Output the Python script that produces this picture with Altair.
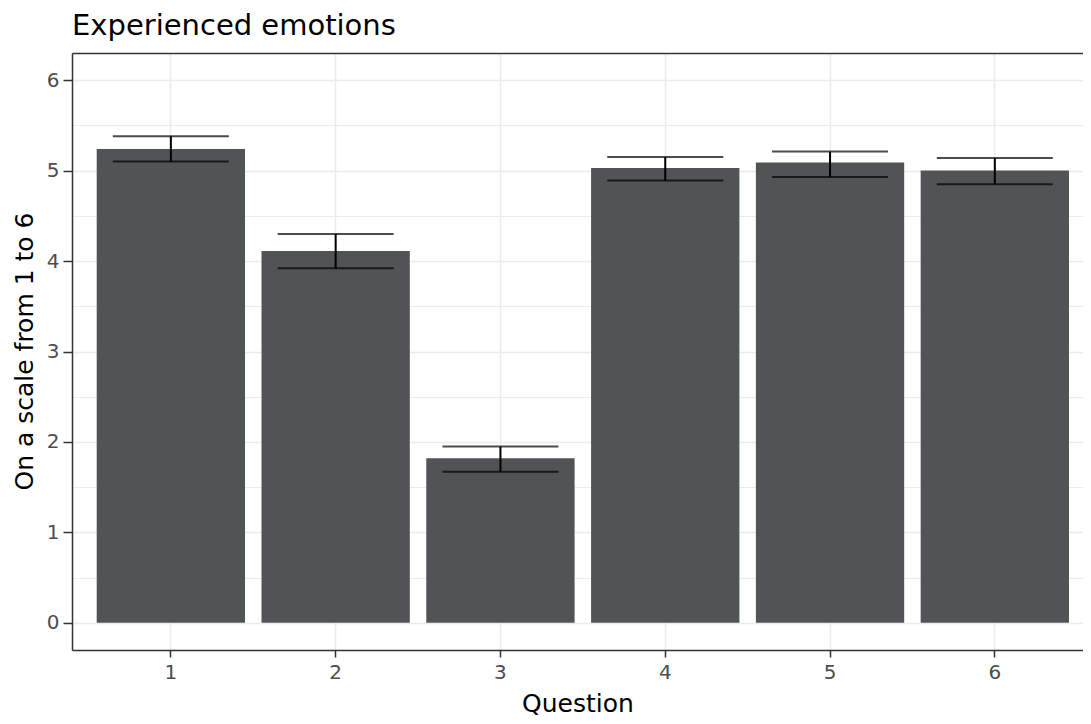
import altair as alt
import pandas as pd

questions = ["1", "2", "3", "4", "5", "6"]
means = [5.24, 4.11, 1.82, 5.03, 5.09, 5.00]
lower = [5.10, 3.92, 1.67, 4.89, 4.93, 4.85]
upper = [5.38, 4.30, 1.95, 5.15, 5.21, 5.14]
y_ticks = [0, 0.5, 1, 1.5, 2, 2.5, 3, 3.5, 4, 4.5, 5, 5.5, 6]

df = pd.DataFrame({"Question": questions, "mean": means, "lower": lower, "upper": upper})

FONT = "DejaVu Sans"
BORDER = "#333333"

x_scale = alt.Scale(paddingInner=0.1, paddingOuter=0.1175, align=0.638)
y_scale = alt.Scale(domain=[-0.3, 6.3], nice=False, zero=False)

x_axis_bottom = alt.Axis(
    labelAngle=0,
    labelFont=FONT,
    labelFontSize=20,
    labelColor="#4D4D4D",
    labelPadding=5,
    tickColor=BORDER,
    tickWidth=1.5,
    tickSize=7,
    domain=True,
    domainColor=BORDER,
    domainWidth=1.5,
    grid=True,
    gridColor="#EBEBEB",
    gridWidth=1.5,
    titleFont=FONT,
    titleFontSize=25,
    titleFontWeight="normal",
    titleColor="black",
    titleY=61,
    titleBaseline="alphabetic",
)

x_axis_top = alt.Axis(
    orient="top",
    labels=False,
    ticks=False,
    grid=False,
    domain=True,
    domainColor=BORDER,
    domainWidth=1.5,
    title=None,
)

y_axis = alt.Axis(
    values=y_ticks,
    labelExpr="datum.value % 1 === 0 ? format(datum.value, 'd') : ''",
    labelFont=FONT,
    labelFontSize=20,
    labelColor="#4D4D4D",
    labelPadding=4,
    tickColor=BORDER,
    tickWidth=1.5,
    tickSize=9,
    tickOpacity={"condition": {"test": "datum.value % 1 !== 0", "value": 0}, "value": 1},
    domain=True,
    domainColor=BORDER,
    domainWidth=1.5,
    grid=True,
    gridColor="#EBEBEB",
    gridWidth={"condition": {"test": "datum.value % 1 !== 0", "value": 1}, "value": 1.5},
    titleFont=FONT,
    titleFontSize=25,
    titleFontWeight="normal",
    titleColor="black",
    titleX=-48,
    titleY=298,
    titleAngle=270,
    titleAlign="center",
    titleBaseline="middle",
)

base = alt.Chart(df)

bars = base.mark_bar(color="#505454").encode(
    x=alt.X("Question:N", title="Question", scale=x_scale, axis=x_axis_bottom),
    y=alt.Y("mean:Q", title="On a scale from 1 to 6", scale=y_scale, axis=y_axis),
    y2=alt.datum(0),
)

stem = base.mark_rule(color="black", strokeWidth=2).encode(
    x=alt.X("Question:N", axis=None),
    y=alt.Y("lower:Q"),
    y2="upper:Q",
)

cap_top = base.mark_tick(color="black", size=116, thickness=2).encode(
    x=alt.X("Question:N", axis=x_axis_top),
    y=alt.Y("upper:Q"),
)

cap_bottom = base.mark_tick(color="black", size=116, thickness=2).encode(
    x=alt.X("Question:N", axis=None),
    y=alt.Y("lower:Q"),
)

chart = (
    alt.layer(bars, stem, cap_top, cap_bottom)
    .resolve_axis(x="independent")
    .properties(
        width=1011,
        height=597,
        title=alt.TitleParams(
            "Experienced emotions",
            anchor="start",
            frame="group",
            font=FONT,
            fontSize=29,
            fontWeight="normal",
            color="black",
            offset=12,
        ),
        autosize=alt.AutoSizeParams(type="none"),
        padding={"left": 64, "top": 45, "right": 0, "bottom": 66},
    )
    .configure_view(stroke=None)
    .configure(background="white")
)

chart.save("out.html", embed_options={"renderer": "svg", "actions": False})
